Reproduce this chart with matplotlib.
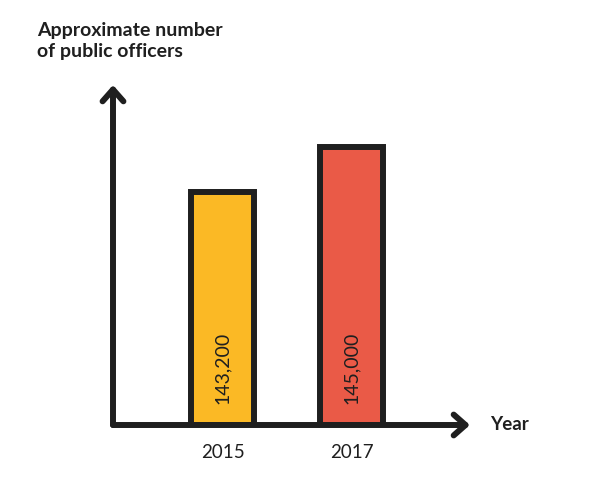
import matplotlib.pyplot as plt

years = ['2015', '2017']
officers = [143200, 145000]
labels = ['143,200', '145,000']
colors = ['#FBB925', '#EA5A47']

base = 133800      # axis is cut, bars are drawn from here
top = 147500
ink = '#1f1f1f'

plt.rcParams['font.family'] = ['Lato', 'DejaVu Sans']

fig = plt.figure(figsize=(6, 4.87), dpi=100)
# axes box from the y axis (x=113px) to the arrow tip (x=470px), baseline y=425px, top y=85px
ax = fig.add_axes([113/600, (487-425)/487, (470-113)/600, (425-85)/487])

xs = [0, 1]
ax.bar(xs, [v - base for v in officers], bottom=base, width=0.49, color=colors,
       edgecolor=ink, linewidth=4.3, zorder=2)
ax.set_xlim(-0.849, 1.919)
ax.set_ylim(base, top)

for x, v, lab in zip(xs, officers, labels):
    ax.text(x, base + 57/0.0248, lab, rotation=90, ha='center', va='center',
            fontsize=14, color=ink, zorder=3)

for s in ax.spines.values():
    s.set_visible(False)
ax.set_yticks([])
ax.set_xticks(xs)
ax.set_xticklabels(years, fontsize=13.5, color=ink)
ax.tick_params(axis='x', length=0, pad=14)

# axis arrows
head = '->,head_length=0.85,head_width=0.75'
ax.annotate('', xy=(1.0, 0), xytext=(0, 0), xycoords='axes fraction',
            arrowprops=dict(arrowstyle=head, color=ink, lw=4.3,
                            shrinkA=0, shrinkB=0, joinstyle='round', capstyle='round'), zorder=4)
ax.annotate('', xy=(0, 1.0), xytext=(0, 0), xycoords='axes fraction',
            arrowprops=dict(arrowstyle=head, color=ink, lw=4.3,
                            shrinkA=0, shrinkB=0, joinstyle='round', capstyle='round'), zorder=4)

fig.text(37/600, 1 - 41/487, 'Approximate number\nof public officers', fontsize=14, fontweight='bold',
         color=ink, ha='left', va='center', linespacing=1.3)
fig.text(490/600, 1 - 424/487, 'Year', fontsize=13.5, fontweight='bold', color=ink, ha='left', va='center')

plt.savefig('out.png', dpi=100)
plt.close()
